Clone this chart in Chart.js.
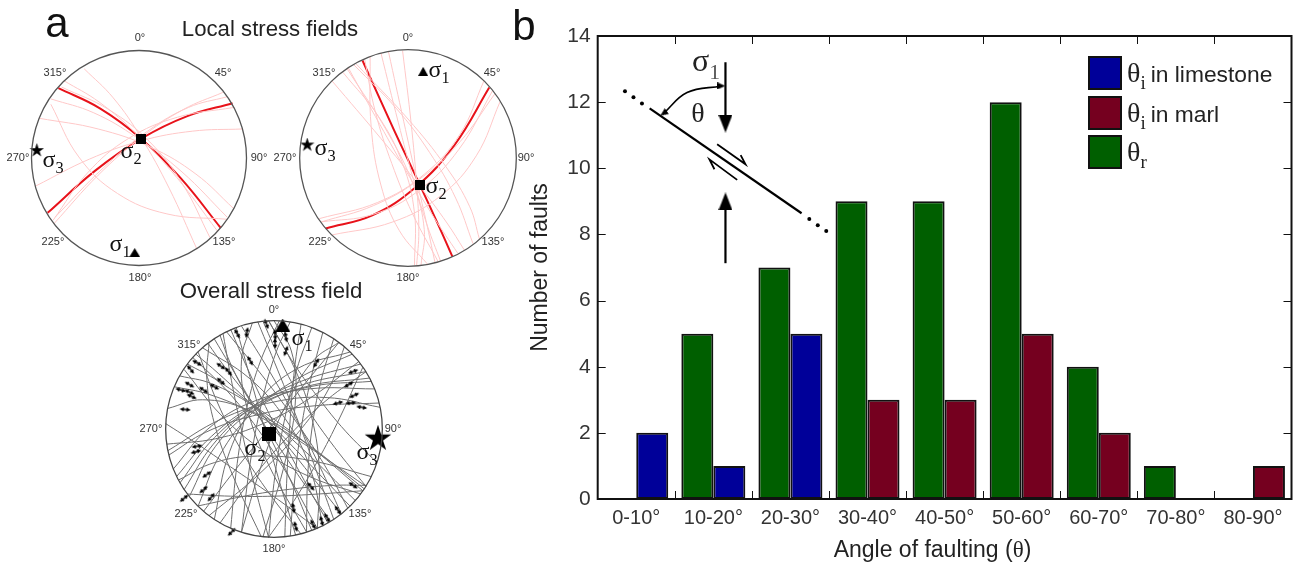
<!DOCTYPE html>
<html>
<head>
<meta charset="utf-8">
<title>Faulting angles</title>
<script src="https://cdn.jsdelivr.net/npm/chart.js@4/dist/chart.umd.min.js"></script>
<style>
  html, body { margin: 0; padding: 0; background: #fff; }
  #page { position: relative; width: 1298px; height: 564px; overflow: hidden; font-family: "Liberation Sans", Arial, sans-serif; color: #222; }
  #page canvas { position: absolute; }
  .lbl { position: absolute; white-space: nowrap; transform: translate(-50%, -50%); line-height: 1; z-index: 5; }
  .deg { font-size: 11px; color: #333; }
  .head { font-size: 42px; color: #111; }
  .title { font-size: 22.2px; color: #222; }
  .axis { font-size: 23px; color: #222; }
  .axis span { font-family: "Liberation Serif", serif; }
  .sig { font-family: "Liberation Serif", serif; font-size: 24px; color: #111; }
  .sig sub, .th sub { font-size: 0.68em; vertical-align: -0.35em; line-height: 0; }
  .th { font-family: "Liberation Serif", serif; font-size: 28px; color: #222; }
  .big { font-size: 32px; }
  .swatch { position: absolute; box-sizing: border-box; width: 34px; height: 34px; border: 2px solid #111; z-index: 5; }
  .leg { position: absolute; white-space: nowrap; z-index: 5; font-size: 22.8px; line-height: 33px; color: #222; }
  .leg b { font-weight: normal; margin-left: 5px; }
</style>
</head>
<body>
<div id="page">
  <canvas id="netA" width="258" height="258" style="left:9.5px;top:28.5px"></canvas>
  <canvas id="netB" width="260" height="260" style="left:277.5px;top:27.5px"></canvas>
  <canvas id="netC" width="260" height="260" style="left:143.5px;top:299px"></canvas>
  <canvas id="bars" width="778" height="564" style="left:520px;top:0"></canvas>
  <canvas id="inset" width="694" height="463" style="left:598px;top:36px"></canvas>
</div>
<script>
// panel b
const categories = ['0-10°', '10-20°', '20-30°', '30-40°', '40-50°', '50-60°', '60-70°', '70-80°', '80-90°'];
const limestone = [2, 1, 5, null, null, null, null, null, null];
const marl = [null, null, null, 3, 3, 5, 2, null, 1];
const refracted = [null, 5, 7, 9, 9, 12, 4, 1, null];
const yTicks = [0, 2, 4, 6, 8, 10, 12, 14];

// inset sketch in panel b, in category / count units
const faultLine = [[0.67, 11.81], [2.64, 8.64]];
const faultDots = [[0.35, 12.33], [0.46, 12.15], [0.57, 11.96], [2.74, 8.47], [2.85, 8.28], [2.96, 8.10]];
const sigmaTop = [[1.653, 13.21], [1.653, 11.5]];
const sigmaBottom = [[1.653, 7.13], [1.653, 8.85]];
const shearUpper = [[1.545, 10.73], [1.913, 10.12], [1.85, 10.40]];
const shearLower = [[1.805, 9.65], [1.445, 10.27], [1.51, 9.97]];
const thetaArc = [[1.6, 12.49], [1.155, 12.29], [0.85, 11.66]];
const insetHeads = [[1.653, 11.35], [1.653, 9.0]];

// stereonets, x east / y north, net radius = 100
const netABold = [
  [-75, 65, -36, 46, 2, 18, 39, -19, 76, -65],
  [-85, -51, -41, -12, 2, 18, 45, 39, 87, 51]
];
const netALight = [
  [-51, 83, -24, 56, 2, 19, 28, -28, 54, -85],
  [-82, 55, -42, 42, -2, 19, 40, -13, 82, -55],
  [-93, 37, -38, 27, 11, 10, 53, -15, 88, -47],
  [-82, 50, -56, 1, -20, -33, 26, -52, 82, -57],
  [-70, 72, -37, 52, -2, 22, 35, -18, 73, -68],
  [-96, -26, -46, -1, 2, 16, 50, 25, 96, 27],
  [-79, -61, -38, -16, 2, 19, 41, 45, 78, 61],
  [-78, -55, -33, -9, 8, 25, 46, 47, 82, 57],
  [-80, -58, -48, -14, -10, 18, 36, 38, 88, 47],
  [-72, 66, -28, 45, 10, 15, 41, -25, 66, -74]
];
const netBBold = [
  [-42, 90, -13, 26, 11, -25, 29, -64, 41, -91],
  [-76, -65, -33, -53, 7, -27, 43, 12, 75, 65]
];
const netBLight = [
  [-70, 71, -25, 18, 10, -25, 36, -60, 52, -85],
  [-56, 82, -19, 24, 5, -25, 15, -66, 12, -99],
  [-60, 79, -27, 38, -5, -5, 6, -51, 6, -99],
  [-25, 97, -9, 33, 5, -20, 18, -63, 30, -95],
  [-18, 98, -4, 34, 8, -20, 18, -64, 25, -97],
  [-5, 99, 3, 31, 8, -25, 10, -68, 8, -99],
  [-50, 86, -11, 46, 20, 5, 44, -37, 60, -79],
  [-48, 87, 0, 36, 35, -8, 57, -45, 66, -75],
  [-40, 91, -30, 42, -15, -5, 4, -51, 28, -96],
  [-35, 94, -34, 29, -25, -25, -8, -67, 18, -98],
  [-55, 83, -26, 31, 0, -15, 24, -55, 46, -88],
  [-80, -59, -32, -44, 10, -20, 48, 15, 80, 59],
  [-80, -59, -32, -52, 10, -30, 47, 8, 78, 62],
  [-70, -71, -14, -59, 30, -35, 63, 2, 85, 52],
  [-82, -56, -28, -41, 15, -15, 48, 22, 70, 71]
];
const netCArcs = [
  [-87, 49, -58, 42, -20, 22, 27, -11, 82, -57],
  [-80, 60, -51, 44, -15, 18, 27, -19, 75, -66],
  [-72, 69, -51, 51, -20, 22, 20, -19, 70, -71],
  [-92, 39, -60, 32, -20, 15, 28, -14, 85, -53],
  [-61, 79, -46, 58, -20, 25, 16, -20, 62, -78],
  [-50, 87, -40, 60, -20, 22, 11, -26, 52, -85],
  [-40, 92, -25, 57, -5, 15, 20, -33, 50, -87],
  [-66, 75, -23, 47, 10, 10, 33, -35, 45, -89],
  [-98, 19, -66, 27, -25, 18, 25, -10, 83, -55],
  [-83, 55, -49, 13, -10, -20, 33, -44, 80, -60],
  [-75, 66, -44, 36, -15, 0, 13, -43, 40, -92],
  [-55, 83, -29, 39, -5, -5, 16, -49, 35, -94],
  [-35, 94, -23, 51, -10, 5, 4, -45, 20, -98],
  [-47, 88, -38, 38, -28, -10, -17, -56, -5, -100],
  [-30, 95, -4, 53, 20, 10, 42, -34, 62, -78],
  [-15, 99, 6, 48, 25, 0, 41, -44, 55, -83],
  [-44, 90, -6, 43, 25, 0, 50, -39, 68, -73],
  [-90, -44, -58, -7, -18, 22, 30, 42, 85, 53],
  [-83, -56, -56, -14, -20, 20, 25, 44, 80, 60],
  [-87, -50, -55, -8, -15, 22, 33, 39, 90, 44],
  [-78, -62, -54, -16, -18, 18, 29, 39, 88, 47],
  [-70, -71, -50, -24, -20, 15, 21, 46, 72, 69],
  [-93, -37, -61, 0, -20, 25, 32, 37, 93, 37],
  [-97, -24, -63, -3, -20, 12, 33, 21, 97, 24],
  [-98, -20, -49, 9, 0, 25, 49, 29, 98, 20],
  [-99, -14, -54, -9, -10, 5, 34, 29, 78, 62],
  [-65, -76, -36, -38, -5, 0, 27, 40, 60, 80],
  [-60, -80, -12, -40, 25, 0, 51, 38, 65, 76],
  [-50, -87, -18, -43, 15, -5, 49, 27, 85, 53],
  [-70, -71, -22, -61, 20, -55, 56, -52, 85, -52],
  [-80, -60, -40, -62, 0, -62, 41, -60, 82, -57],
  [-88, -47, -55, -31, -15, -25, 33, -29, 90, -44],
  [-60, 79, -62, 46, -55, 5, -38, -43, -12, -99],
  [5, 100, -12, 64, -25, 20, -34, -32, -40, -92],
  [15, 99, 2, 71, -10, 30, -21, -25, -30, -95],
  [35, 94, 21, 55, 10, 10, 1, -42, -5, -100],
  [25, 97, 19, 56, 15, 10, 12, -42, 10, -99],
  [45, 89, 34, 46, 25, 0, 19, -48, 15, -99],
  [55, 83, 43, 43, 35, 0, 31, -46, 30, -95],
  [60, 80, 37, 64, 15, 30, -8, -23, -30, -95],
  [70, 71, 22, 56, -15, 25, -41, -21, -55, -83],
  [-5, 100, 19, 56, 35, 10, 42, -40, 40, -92],
  [0, 100, 16, 72, 20, 30, 11, -27, -10, -99],
  [-20, 98, -30, 64, -25, 20, -5, -33, 30, -95],
  [-10, 99, 8, 59, 30, 20, 56, -17, 85, -53],
  [-5, 100, 16, 64, 40, 30, 66, -2, 95, -31],
  [-70, 71, -52, 24, -30, -20, -4, -60, 25, -97],
  [82, 57, 61, 11, 40, -30, 18, -67, -5, -100],
  [-100, 5, -72, -13, -40, -35, -2, -61, 40, -92]
];
const netCArrows = [
  [-7, 97, 160], [1, 87, 175], [1, 79, 178], [11, 85, 170], [11, 72, 20], [-25, 89, 10], [-34, 88, 150],
  [-22, 63, 150], [39, 61, 30], [-71, 61, 120], [-49, 58, 125], [-42, 53, 140], [-49, 44, 130],
  [-77, 55, 140], [-78, 41, 120], [-86, 36, 105], [-78, 34, 115], [-76, 30, 115], [-65, 36, 125],
  [-55, 39, 120], [-82, 18, 95], [-71, -16, 80], [-72, -21, 75], [-62, -42, 55], [-65, -56, 50],
  [-58, -63, 40], [-83, -64, 50], [-39, -95, 45], [18, -73, 170], [20, -90, 165], [36, -88, 155],
  [44, -85, 165], [49, -82, 150], [59, -75, 145], [73, -52, 125], [34, -53, 140], [59, 24, 75],
  [71, 24, 85], [74, 31, 65], [69, 41, 60], [73, 53, 70], [81, 20, 100]
];

function toPoints(flat) {
  const pts = [];
  for (let i = 0; i < flat.length; i += 2) pts.push({ x: flat[i], y: flat[i + 1] });
  return pts;
}
const pairs = (list) => list.map(p => ({ x: p[0], y: p[1] }));

// little canvases used as point styles
function icon(w, h, draw) {
  const c = document.createElement('canvas');
  c.width = w; c.height = h;
  const ctx = c.getContext('2d');
  ctx.fillStyle = '#000';
  ctx.strokeStyle = '#000';
  draw(ctx, w, h);
  return c;
}
const triangleIcon = (w, h, pointDown) => icon(w, h, (ctx) => {
  ctx.beginPath();
  if (pointDown) { ctx.moveTo(0, 0); ctx.lineTo(w, 0); ctx.lineTo(w / 2, h); }
  else { ctx.moveTo(w / 2, 0); ctx.lineTo(w, h); ctx.lineTo(0, h); }
  ctx.closePath();
  ctx.fill();
});
const starIcon = (size) => icon(size, size, (ctx) => {
  const r = size / 2;
  ctx.beginPath();
  for (let i = 0; i < 10; i++) {
    const rad = i % 2 ? r * 0.38 : r;
    const a = -Math.PI / 2 + i * Math.PI / 5;
    ctx.lineTo(r + rad * Math.cos(a), r + rad * Math.sin(a));
  }
  ctx.closePath();
  ctx.fill();
});
const squareIcon = (size) => icon(size, size, (ctx, w, h) => ctx.fillRect(0, 0, w, h));
const faultArrow = icon(6, 11, (ctx) => {
  ctx.beginPath();
  ctx.moveTo(3, 0); ctx.lineTo(5.2, 4.2); ctx.lineTo(3.7, 4.2); ctx.lineTo(3.7, 6.8);
  ctx.lineTo(5.2, 6.8); ctx.lineTo(3, 11); ctx.lineTo(0.8, 6.8); ctx.lineTo(2.3, 6.8);
  ctx.lineTo(2.3, 4.2); ctx.lineTo(0.8, 4.2);
  ctx.closePath();
  ctx.fill();
});

const netCircle = {
  id: 'netCircle',
  afterDatasetsDraw(chart) {
    const { x, y } = chart.scales;
    const ctx = chart.ctx;
    ctx.save();
    ctx.beginPath();
    ctx.arc(x.getPixelForValue(0), y.getPixelForValue(0), x.getPixelForValue(100) - x.getPixelForValue(0), 0, Math.PI * 2);
    ctx.strokeStyle = chart.options.plugins.netCircle.color;
    ctx.lineWidth = 1.3;
    ctx.stroke();
    ctx.restore();
  }
};

function arcSet(arcs, color, width) {
  return arcs.map(a => ({
    data: toPoints(a), showLine: true, borderColor: color, borderWidth: width,
    pointRadius: 0, tension: 0.4, order: 5
  }));
}
function marker(x, y, style) {
  return { data: [{ x, y }], pointStyle: style, pointRadius: 6, showLine: false, order: 1 };
}

function makeNet(id, datasets, circleColor) {
  new Chart(document.getElementById(id), {
    type: 'scatter',
    data: { datasets },
    plugins: [netCircle],
    options: {
      responsive: false,
      animation: false,
      layout: { padding: 0, autoPadding: false },
      plugins: { legend: { display: false }, tooltip: { enabled: false }, netCircle: { color: circleColor } },
      scales: {
        x: { display: false, min: -120, max: 120 },
        y: { display: false, min: -120, max: 120 }
      }
    }
  });
}

const RED = '#e8121a';
const PINK = '#ffc8c8';
makeNet('netA', [
  ...arcSet(netALight, PINK, 1),
  ...arcSet(netABold, RED, 2),
  marker(2, 18, squareIcon(10)),
  marker(-4, -88, triangleIcon(11, 9)),
  marker(-95, 7, starIcon(15))
], '#555');
makeNet('netB', [
  ...arcSet(netBLight, PINK, 1),
  ...arcSet(netBBold, RED, 2),
  marker(11, -25, squareIcon(10)),
  marker(14, 80, triangleIcon(10, 9)),
  marker(-93, 12, starIcon(15))
], '#555');
makeNet('netC', [
  ...arcSet(netCArcs, '#6e6e6e', 1),
  {
    data: netCArrows.map(a => ({ x: a[0], y: a[1] })),
    pointStyle: faultArrow,
    pointRotation: netCArrows.map(a => a[2]),
    pointRadius: 4, showLine: false, order: 2
  },
  marker(-5, -5, squareIcon(14)),
  marker(8, 96, triangleIcon(15, 13)),
  marker(96, -9, starIcon(28))
], '#444');

// ticks point inward on all four sides, like the original plot
const frame = {
  id: 'frame',
  afterDatasetsDraw(chart) {
    const { x, y } = chart.scales;
    const { left, right, top, bottom } = chart.chartArea;
    const ctx = chart.ctx;
    ctx.save();
    ctx.strokeStyle = '#111';
    ctx.lineWidth = 1;
    ctx.beginPath();
    yTicks.slice(1, -1).forEach(v => {
      const p = Math.round(y.getPixelForValue(v)) + 0.5;
      ctx.moveTo(left, p); ctx.lineTo(left + 8, p);
      ctx.moveTo(right, p); ctx.lineTo(right - 8, p);
    });
    categories.slice(1).forEach((c, i) => {
      const p = Math.round((x.getPixelForTick(i) + x.getPixelForTick(i + 1)) / 2) + 0.5;
      ctx.moveTo(p, top); ctx.lineTo(p, top + 8);
      ctx.moveTo(p, bottom); ctx.lineTo(p, bottom - 8);
    });
    ctx.stroke();
    ctx.lineWidth = 2;
    ctx.strokeRect(left, top, right - left, bottom - top);
    ctx.restore();
  }
};

const barStyle = { borderColor: '#111', borderWidth: 2, categoryPercentage: 0.83, barPercentage: 1, borderSkipped: false };

new Chart(document.getElementById('bars'), {
  type: 'bar',
  data: {
    labels: categories,
    datasets: [
      { label: 'θr', data: refracted, backgroundColor: '#005f00', stack: 'left', ...barStyle },
      { label: 'θi in limestone', data: limestone, backgroundColor: '#000099', stack: 'right', ...barStyle },
      { label: 'θi in marl', data: marl, backgroundColor: '#75001f', stack: 'right', ...barStyle }
    ]
  },
  plugins: [frame],
  options: {
    responsive: false,
    animation: false,
    layout: { padding: { top: 36, right: 6.5, bottom: 0, left: 0 }, autoPadding: false },
    plugins: { legend: { display: false }, tooltip: { enabled: false } },
    scales: {
      x: {
        stacked: true,
        grid: { display: false, drawTicks: false },
        border: { display: false },
        ticks: { color: '#333', font: { family: 'Liberation Sans', size: 20 }, padding: 7, maxRotation: 0, autoSkip: false },
        afterFit(s) { s.height = 65; }
      },
      y: {
        stacked: true,
        min: 0,
        max: 14,
        afterBuildTicks(s) { s.ticks = yTicks.map(v => ({ value: v })); },
        grid: { display: false, drawTicks: false },
        border: { display: false },
        ticks: { color: '#333', font: { family: 'Liberation Sans', size: 21 }, padding: 7 },
        title: { display: true, text: 'Number of faults', color: '#222', font: { family: 'Liberation Sans', size: 23 }, padding: { top: 7, bottom: 0 } },
        afterFit(s) { s.width = 77.7; }
      }
    }
  }
});

// the sketch sits on its own transparent chart over the plot area
function sketch(list, width, tension) {
  return { data: pairs(list), showLine: true, borderColor: '#000', borderWidth: width, pointRadius: 0, tension: tension || 0 };
}
new Chart(document.getElementById('inset'), {
  type: 'scatter',
  data: {
    datasets: [
      sketch(faultLine, 2.2),
      sketch(sigmaTop, 2.2),
      sketch(sigmaBottom, 2.2),
      sketch(shearUpper, 1.8),
      sketch(shearLower, 1.8),
      sketch(thetaArc, 1.6, 0.4),
      { data: pairs(faultDots), pointRadius: 2, pointBackgroundColor: '#000', pointBorderWidth: 0 },
      { data: pairs(insetHeads), pointStyle: [triangleIcon(14, 18, true), triangleIcon(14, 18, false)], pointRadius: 8 },
      { data: pairs([thetaArc[0], thetaArc[2]]), pointStyle: triangleIcon(7, 8), pointRotation: [90, 235], pointRadius: 4 }
    ]
  },
  options: {
    responsive: false,
    animation: false,
    layout: { padding: 0, autoPadding: false },
    plugins: { legend: { display: false }, tooltip: { enabled: false } },
    scales: {
      x: { display: false, min: 0, max: 9 },
      y: { display: false, min: 0, max: 14 }
    }
  }
});

// html text on top of the canvases
const page = document.getElementById('page');
function label(x, y, html, cls) {
  const d = document.createElement('div');
  d.className = 'lbl ' + cls;
  d.style.left = x + 'px';
  d.style.top = y + 'px';
  d.innerHTML = html;
  page.appendChild(d);
}
const degreeLabels = ['0°', '45°', '90°', '135°', '180°', '225°', '270°', '315°'];
const degreeSpots = [
  [[140, 37], [223, 72], [259, 157], [224, 241], [140, 277], [53, 241], [18, 157], [55, 72]],
  [[408, 37], [492, 72], [526, 157], [493, 241], [408, 277], [320, 241], [285, 157], [324, 72]],
  [[274, 309], [358, 344], [393, 428], [360, 513], [274, 548], [186, 513], [151, 428], [189, 344]]
];
degreeSpots.forEach(net => net.forEach((p, i) => label(p[0], p[1], degreeLabels[i], 'deg')));

label(57, 23, 'a', 'head');
label(524, 26, 'b', 'head');
label(270, 29, 'Local stress fields', 'title');
label(271, 291, 'Overall stress field', 'title');
label(932.5, 549, 'Angle of faulting (<span>θ</span>)', 'axis');

const sig = (n) => 'σ<sub>' + n + '</sub>';
label(120, 243, sig(1), 'sig');
label(131, 150, sig(2), 'sig');
label(53, 159, sig(3), 'sig');
label(439, 69, sig(1), 'sig');
label(436, 185, sig(2), 'sig');
label(325, 147, sig(3), 'sig');
label(302, 337, sig(1), 'sig');
label(255, 447, sig(2), 'sig');
label(367, 451, sig(3), 'sig');

// sketch labels and legend in panel b
label(706, 60, sig(1).replace('<sub>', '<sub style="color:#555">'), 'th big');
label(698, 113, 'θ', 'th');

const legendRows = [
  { color: '#000099', symbol: 'θ<sub>i</sub>', text: 'in limestone', top: 56 },
  { color: '#75001f', symbol: 'θ<sub>i</sub>', text: 'in marl', top: 95.5 },
  { color: '#005f00', symbol: 'θ<sub>r</sub>', text: '', top: 134.5 }
];
legendRows.forEach(r => {
  const s = document.createElement('div');
  s.className = 'swatch';
  s.style.cssText = 'left:1088px;top:' + r.top + 'px;background:' + r.color;
  page.appendChild(s);
  const t = document.createElement('div');
  t.className = 'leg';
  t.style.cssText = 'left:1127px;top:' + r.top + 'px';
  t.innerHTML = '<span class="th">' + r.symbol + '</span><b>' + r.text + '</b>';
  page.appendChild(t);
});
</script>
</body>
</html>
